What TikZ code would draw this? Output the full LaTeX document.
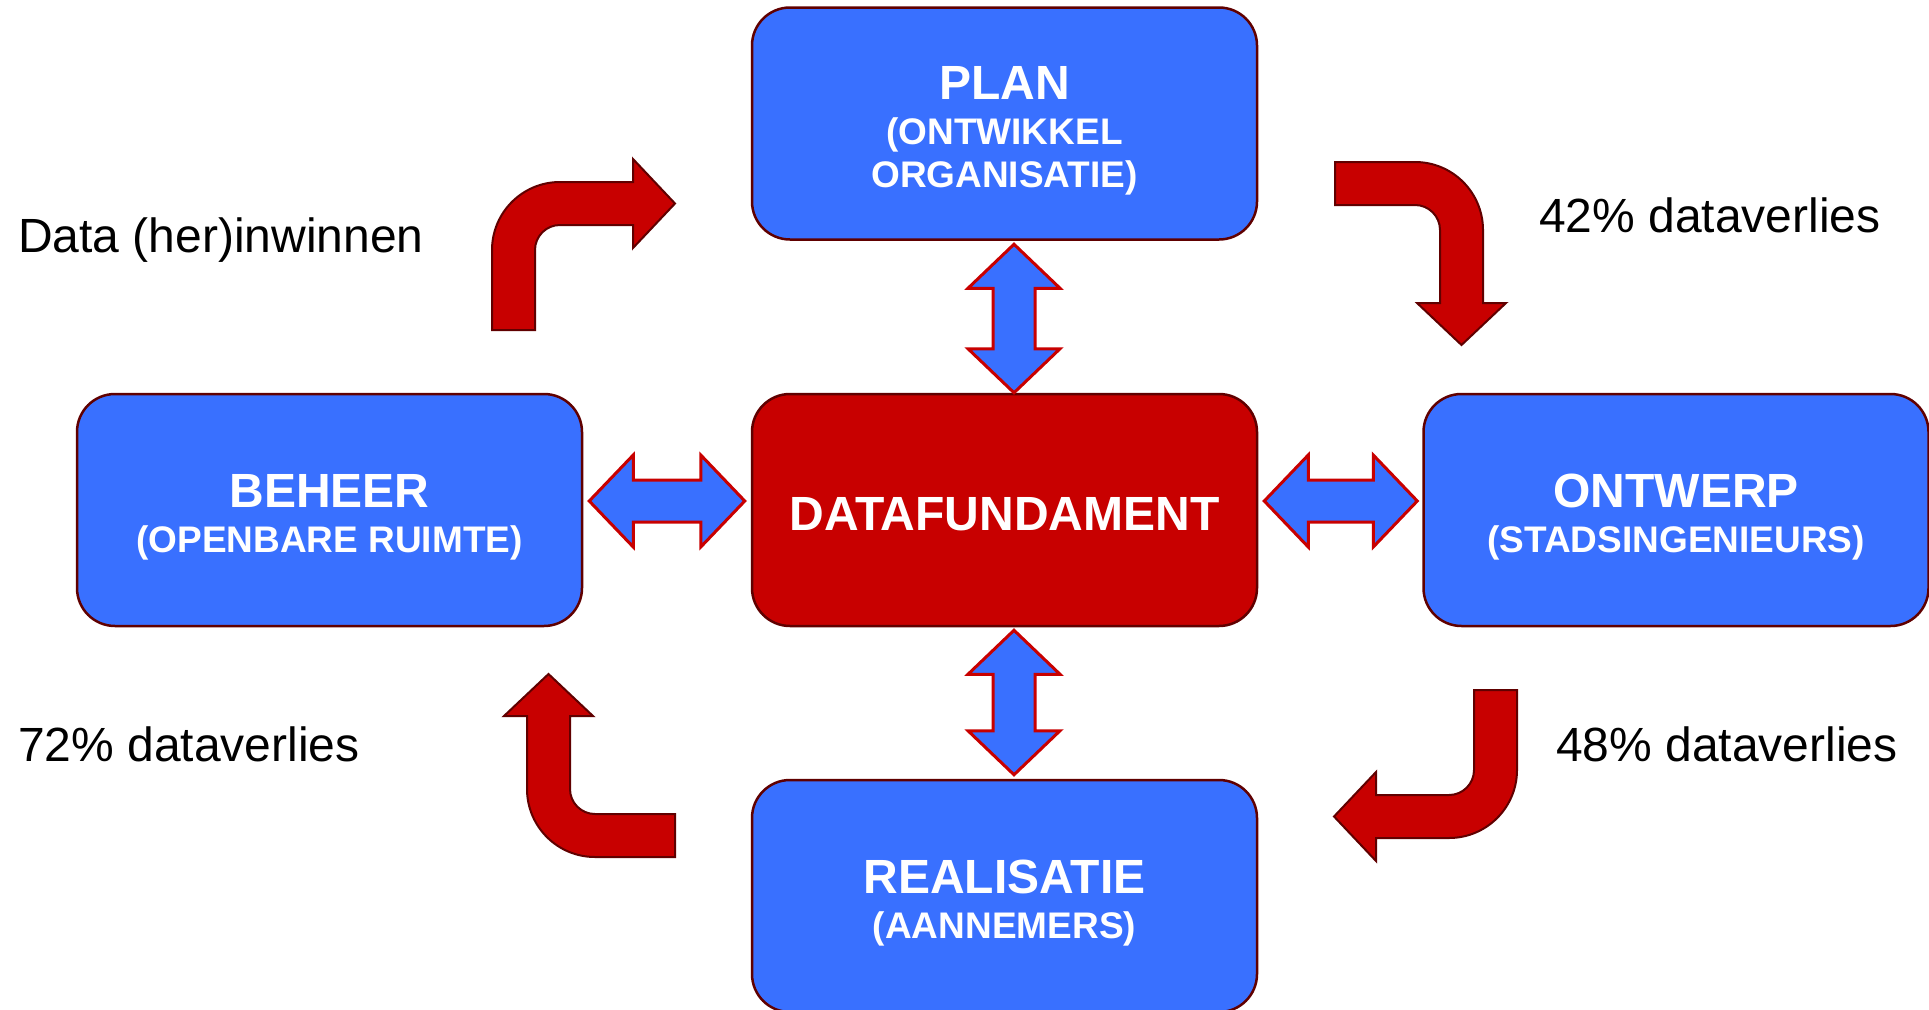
\documentclass[tikz,border=0pt]{standalone}
\usepackage{fontspec}
\setmainfont{Liberation Sans}
\usetikzlibrary{calc}
\definecolor{phaseblue}{RGB}{57,112,255}
\definecolor{corered}{RGB}{200,0,0}
\definecolor{boxline}{RGB}{96,0,0}
\tikzset{
	phase/.style={draw=boxline,line width=2.5pt,fill=phaseblue,rounded corners=38pt,minimum width=505pt,minimum height=232pt,inner sep=0pt},
	core/.style={phase,fill=corered},
	title/.style={anchor=base,inner sep=0pt,text=white,font=\fontsize{48}{57}\selectfont\bfseries},
	sub/.style={anchor=base,inner sep=0pt,text=white,font=\fontsize{37}{44}\selectfont\bfseries},
	loss/.style={anchor=base west,inner sep=0pt,font=\fontsize{48}{57}\selectfont},
	biarrow/.style={draw=corered,line width=3pt,fill=phaseblue},
	flow/.style={draw=boxline,line width=2pt,fill=corered},
	flowarrow/.pic={
		\draw[flow] (0,148) -- (0,68) arc[start angle=180,end angle=90,radius=68pt] -- (141,0) -- (141,-23)
			-- (183,21.5) -- (141,66) -- (141,43) -- (68,43) arc[start angle=90,end angle=180,radius=25pt] -- (43,148) -- cycle;
	}
}
% double arrows between two tips
\newcommand{\hbiarrow}[2]{%
	\draw[biarrow] (#1) -- ++(44,-46) -- ++(0,25) -- ($(#2)+(-44,-21)$) -- ++(0,-25)
		-- (#2) -- ++(-44,46) -- ++(0,-25) -- ($(#1)+(44,21)$) -- ++(0,25) -- cycle;}
\newcommand{\vbiarrow}[2]{%
	\draw[biarrow] (#1) -- ++(46,44) -- ++(-25,0) -- ($(#2)+(21,-44)$) -- ++(25,0)
		-- (#2) -- ++(-46,-44) -- ++(25,0) -- ($(#1)+(-21,44)$) -- ++(-25,0) -- cycle;}

\begin{document}
\begin{tikzpicture}[x=1pt,y=-1pt]
	\useasboundingbox (0,0) rectangle (1929,1009);
	\clip (0,0) rectangle (1929,1009);

	\node[phase] (plan) at (1004.5,123.5) {};
	\node[core] (data) at (1004.5,510) {};
	\node[phase] (beheer) at (329.5,510) {};
	\node[phase] (ontwerp) at (1676,510) {};
	\node[phase] (real) at (1004.5,896) {};

	\node[title] (plan-t) at ([yshift=24pt]plan.center) {PLAN};
	\node[sub] (plan-s1) at ([yshift=-45pt]plan-t.base) {(ONTWIKKEL};
	\node[sub] (plan-s2) at ([yshift=-43pt]plan-s1.base) {ORGANISATIE)};
	\node[title] (data-t) at ([yshift=-20pt]data.center) {DATAFUNDAMENT};
	\node[title] (beheer-t) at ([yshift=3pt]beheer.center) {BEHEER};
	\node[sub] (beheer-s) at ([yshift=-45.5pt]beheer-t.base) {(OPENBARE RUIMTE)};
	\node[title] (ontwerp-t) at ([yshift=3pt]ontwerp.center) {ONTWERP};
	\node[sub] (ontwerp-s) at ([yshift=-45.5pt]ontwerp-t.base) {(STADSINGENIEURS)};
	\node[title] (real-t) at ([yshift=3pt]real.center) {REALISATIE};
	\node[sub] (real-s) at ([yshift=-45.5pt]real-t.base) {(AANNEMERS)};

	\node[loss] (l-in) at (18,252) {Data (her)inwinnen};
	\node[loss] (l-42) at (1539,232) {42\% dataverlies};
	\node[loss] (l-72) at (18,761) {72\% dataverlies};
	\node[loss] (l-48) at (1556,761) {48\% dataverlies};

	% tips of the double arrows
	\coordinate (w1) at ([xshift=6pt,yshift=9pt]beheer.east);
	\coordinate (w2) at ([xshift=-6pt,yshift=9pt]data.west);
	\coordinate (e1) at ([xshift=6pt,yshift=9pt]data.east);
	\coordinate (e2) at ([xshift=-5pt,yshift=9pt]ontwerp.west);
	\coordinate (n1) at ([xshift=9.5pt,yshift=-3.5pt]plan.south);
	\coordinate (n2) at ([xshift=9.5pt]data.north);
	\coordinate (s1) at ([xshift=9.5pt,yshift=-3pt]data.south);
	\coordinate (s2) at ([xshift=9.5pt,yshift=4pt]real.north);

	\hbiarrow{w1}{w2}
	\hbiarrow{e1}{e2}
	\vbiarrow{n1}{n2}
	\vbiarrow{s1}{s2}

	\pic at (492,182) {flowarrow};
	\pic[rotate=-90] at (1483,162) {flowarrow};
	\pic[rotate=180] at (1517,838) {flowarrow};
	\pic[rotate=90] at (527,857) {flowarrow};
\end{tikzpicture}
\end{document}
